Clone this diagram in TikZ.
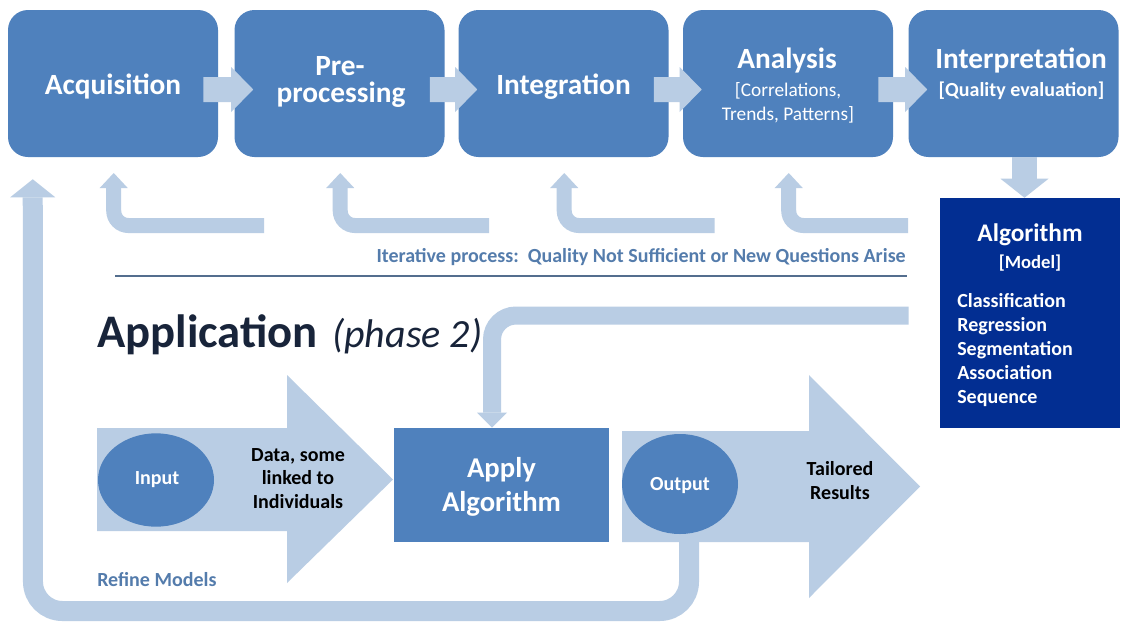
\documentclass[tikz,border=0pt]{standalone}
\usepackage{fontspec}
\setmainfont{Carlito}
\usetikzlibrary{calc,arrows.meta,shapes.geometric}
\definecolor{boxblue}{RGB}{79,129,189}
\definecolor{lightarr}{RGB}{185,205,228}
\definecolor{navybox}{RGB}{2,46,146}
\definecolor{steeltext}{RGB}{84,124,172}
\definecolor{rulecol}{RGB}{84,110,142}
\definecolor{headdark}{RGB}{24,36,58}
\newcommand\topchev[2]{%
  \fill[lightarr] ($(#1.east)+(-15,-6.5)$) -- ($(#2.west)+(-3,-6.5)$) -- ($(#2.west)+(-3,-16.5)$)
    -- ($(#2.west)+(19,6)$) -- ($(#2.west)+(-3,28.5)$) -- ($(#2.west)+(-3,18.5)$)
    -- ($(#1.east)+(-15,18.5)$) -- cycle;}
\tikzset{
  topbox/.style={fill=boxblue, rounded corners=15pt, minimum width=157.5pt, minimum height=110.25pt, inner sep=0pt},
  lbl/.style={anchor=base, inner sep=0pt},
  wtitle/.style={lbl, text=white, font=\fontsize{22}{26}\selectfont\bfseries},
  wsub/.style={lbl, text=white, font=\fontsize{14.5}{17}\selectfont},
  wsubb/.style={lbl, text=white, font=\fontsize{15}{18}\selectfont\bfseries},
  wsmall/.style={lbl, text=white, font=\fontsize{15}{18}\selectfont\bfseries},
  bsmall/.style={lbl, text=black, font=\fontsize{15}{18}\selectfont\bfseries},
  retarrow/.style={draw=lightarr, line width=11.25pt, rounded corners=11pt,
    -{Triangle[width=21pt,length=11.25pt,line width=0pt]}},
  downarrow/.style={draw=lightarr, line width=18.75pt,
    -{Triangle[width=36pt,length=14.25pt,line width=0pt]}},
  applyarrow/.style={draw=lightarr, line width=13.5pt, rounded corners=18pt,
    -{Triangle[width=22.5pt,length=11.25pt,line width=0pt]}},
  refinearrow/.style={draw=lightarr, line width=15pt, rounded corners=22pt,
    -{Triangle[width=33.75pt,length=13.5pt,line width=0pt]}},
  ellnode/.style={ellipse, fill=boxblue, inner sep=0pt},
}
\begin{document}
\begin{tikzpicture}[x=0.75pt,y=-0.75pt]
\useasboundingbox[fill=white] (0,0) rectangle (1128,622);

% ---- top row boxes
\node[topbox] (acq) at (113,83.5) {};
\node[topbox] (pre) at (339.5,83.5) {};
\node[topbox] (int) at (563.5,83.5) {};
\node[topbox] (ana) at (788,83.5) {};
\node[topbox] (itp) at (1013.5,83.5) {};

\topchev{acq}{pre}
\topchev{pre}{int}
\topchev{int}{ana}
\topchev{ana}{itp}

\node[wtitle] (acqT) at (113,94) {Acquisition};
\node[wtitle] (preT1) at (340,75) {Pre-};
\node[wtitle] (preT2) at (341,102) {processing};
\node[wtitle] (intT) at (563.5,94) {Integration};
\node[wtitle] (anaT) at (787,68) {Analysis};
\node[wsub] (anaS1) at (788,96.5) {[Correlations,};
\node[wsub] (anaS2) at (788,120) {Trends, Patterns]};
\node[wtitle] (itpT) at (1021,68) {Interpretation};
\node[wsubb] (itpS) at (1021.5,96.5) {[Quality evaluation]};

% ---- iterative return arrows
\draw[retarrow] ($(pre.west)+(30,142)$) -- ($(acq.west)+(106,142)$) -- ($(acq.west)+(106,89.5)$);
\draw[retarrow] ($(int.west)+(31,142)$) -- ($(pre.west)+(106,142)$) -- ($(pre.west)+(106,89.5)$);
\draw[retarrow] ($(ana.west)+(32,142)$) -- ($(int.west)+(106,142)$) -- ($(int.west)+(106,89.5)$);
\draw[retarrow] ($(itp.west)+(0,142)$) -- ($(ana.west)+(106,142)$) -- ($(ana.west)+(106,89.5)$);

\node[lbl, anchor=base east, text=steeltext, font=\fontsize{15}{18}\selectfont\bfseries] (iter) at (906,262)
  {Iterative process:\ \ Quality Not Sufficient or New Questions Arise};
\draw[rulecol, line width=1.9pt] (115,276) -- (907,276);

% ---- algorithm box
\node[fill=navybox, minimum width=135pt, minimum height=172.5pt, inner sep=0pt] (algo) at (1030,313) {};
\draw[downarrow] ($(itp.south)+(11,0)$) -- ($(algo.north)+(-5.5,0)$);
\node[lbl, text=white, font=\fontsize{19}{22}\selectfont\bfseries] (algoT) at (1030,241) {Algorithm};
\node[lbl, text=white, font=\fontsize{14}{17}\selectfont\bfseries] (algoS) at (1030,268) {[Model]};
\node[wsmall, anchor=base west] (l1) at (957,307.5) {Classification};
\node[wsmall, anchor=base west] (l2) at (957,331.5) {Regression};
\node[wsmall, anchor=base west] (l3) at (957,355.5) {Segmentation};
\node[wsmall, anchor=base west] (l4) at (957,379.5) {Association};
\node[wsmall, anchor=base west] (l5) at (957,403.5) {Sequence};

% ---- application heading
\node[lbl, anchor=base west, text=headdark, font=\fontsize{35}{40}\selectfont\bfseries] (apph) at (97,347) {Application};
\node[lbl, anchor=base west, text=headdark, font=\fontsize{30}{35}\selectfont\itshape] (apphs) at (332,347) {(phase 2)};

% ---- big input arrow
\fill[lightarr] (97,428) -- (287,428) -- (287,375) -- (393,479.5) -- (287,583) -- (287,531) -- (97,531) -- cycle;
\node[ellnode, minimum width=87pt, minimum height=70pt] (inp) at (156,480) {};
\node[wsmall] (inpT) at (157,484.5) {Input};
\node[bsmall] (d1) at (298,461) {Data, some};
\node[bsmall] (d2) at (298,484.5) {linked to};
\node[bsmall] (d3) at (298,508) {Individuals};

% ---- apply algorithm
\node[fill=boxblue, minimum width=161.25pt, minimum height=85.5pt, inner sep=0pt] (apply) at (501.5,485) {};
\node[wtitle, font=\fontsize{21.5}{26}\selectfont\bfseries] (applyT1) at (501.5,477) {Apply};
\node[wtitle, font=\fontsize{21.5}{26}\selectfont\bfseries] (applyT2) at (501.5,511) {Algorithm};
\draw[applyarrow] ($(algo.west)+(-31,2.5)$) -| ($(apply.north)+(-9.5,0)$);

% ---- output arrow and refine loop
\fill[lightarr] (622,431) -- (809,431) -- (809,375) -- (920,486.5) -- (809,598) -- (809,542) -- (622,542) -- cycle;
\coordinate (rfBL) at (33,611);
\coordinate (rfTip) at ($(acq.south west)+(25,22)$);
\node[ellnode, minimum width=87pt, minimum height=75pt] (out) at (680,484) {};
\draw[refinearrow] ($(out.south)+(9,1)$) |- (rfBL) -- (rfTip);
\node[wsmall] (outT) at (680,490) {Output};
\node[bsmall] (t1) at (840,475) {Tailored};
\node[bsmall] (t2) at (840,499) {Results};
\node[lbl, anchor=base west, text=steeltext, font=\fontsize{15}{18}\selectfont\bfseries] (refT) at (97,586) {Refine Models};
\end{tikzpicture}
\end{document}
